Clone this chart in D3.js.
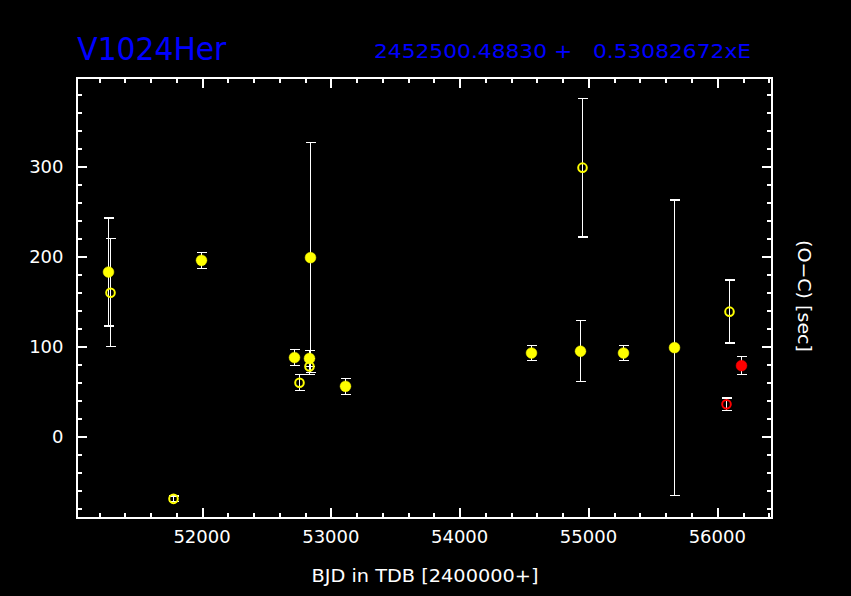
<!DOCTYPE html>
<html>
<head>
<meta charset="utf-8">
<script src="https://cdn.jsdelivr.net/npm/d3@7"></script>
<style>
  html, body { margin: 0; padding: 0; background: #000; }
  svg { display: block; }
  text { font-family: "DejaVu Sans", sans-serif; }
</style>
</head>
<body>
<svg id="chart" width="851" height="596"></svg>
<script>
// ---- data (BJD-2400000, O-C [sec], error [sec]) ----
const filledYellowJD  = [51273, 51990, 52712, 52836, 52831, 53109, 54552, 54932, 55267, 55666];
const filledYellowOC  = [183,   196,   88,    199,   87,    56,    93,    95,    93,    99];
const filledYellowErr = [60,    9,     9,     128,   9,     9,     8,     34,    8,     164];

const openYellowJD  = [51288, 51775, 52751, 52834, 54953, 56091];
const openYellowOC  = [160,   -69,   60,    78,    299,   139];
const openYellowErr = [60,    3,     9,     9,     77,    35];

const filledRedJD  = [56184];
const filledRedOC  = [79];
const filledRedErr = [10];

const openRedJD  = [56068];
const openRedOC  = [36];
const openRedErr = [7];

const xTickValues = [52000, 53000, 54000, 55000, 56000];
const yTickValues = [0, 100, 200, 300];

const titleText = "V1024Her";
const ephemText = "2452500.48830 +   0.53082672xE";
const xLabel = "BJD in TDB [2400000+]";
const yLabel = "(O\u2212C) [sec]";

(function () {
// ---- layout ----
const svg = d3.select("#chart");
const W = 851, H = 596;
const pL = 77, pR = 772, pT = 78, pB = 518;

svg.append("rect").attr("width", W).attr("height", H).attr("fill", "#000");

const x = d3.scaleLinear().domain([51029, 56425]).range([pL, pR]);
const y = d3.scaleLinear().domain([-90.3, 398.6]).range([pB, pT]);

const axisColor = "#fff";
const g = svg.append("g").attr("shape-rendering", "crispEdges");

// frame
g.append("rect")
  .attr("x", pL).attr("y", pT)
  .attr("width", pR - pL).attr("height", pB - pT)
  .attr("fill", "none").attr("stroke", axisColor).attr("stroke-width", 2);

function styleAxis(sel) {
  sel.select(".domain").remove();
  sel.selectAll("line").attr("stroke", axisColor).attr("stroke-width", 2);
  sel.selectAll("text").remove();
}
const xMinor = d3.range(51200, 56425, 200);
const yMinor = d3.range(-80, 398, 20);

// bottom
g.append("g").attr("transform", `translate(0,${pB})`)
  .call(d3.axisTop(x).tickValues(xMinor).tickSize(5)).call(styleAxis);
g.append("g").attr("transform", `translate(0,${pB})`)
  .call(d3.axisTop(x).tickValues(xTickValues).tickSize(10)).call(styleAxis);
// top
g.append("g").attr("transform", `translate(0,${pT})`)
  .call(d3.axisBottom(x).tickValues(xMinor).tickSize(5)).call(styleAxis);
g.append("g").attr("transform", `translate(0,${pT})`)
  .call(d3.axisBottom(x).tickValues(xTickValues).tickSize(10)).call(styleAxis);
// left
g.append("g").attr("transform", `translate(${pL},0)`)
  .call(d3.axisRight(y).tickValues(yMinor).tickSize(5)).call(styleAxis);
g.append("g").attr("transform", `translate(${pL},0)`)
  .call(d3.axisRight(y).tickValues(yTickValues).tickSize(10)).call(styleAxis);
// right
g.append("g").attr("transform", `translate(${pR},0)`)
  .call(d3.axisLeft(y).tickValues(yMinor).tickSize(5)).call(styleAxis);
g.append("g").attr("transform", `translate(${pR},0)`)
  .call(d3.axisLeft(y).tickValues(yTickValues).tickSize(10)).call(styleAxis);

// tick labels
svg.append("g").selectAll("text").data(xTickValues).join("text")
  .attr("x", d => x(d)).attr("y", 543)
  .attr("text-anchor", "middle").attr("fill", "#fff").attr("font-size", 18)
  .text(d => d);
svg.append("g").selectAll("text").data(yTickValues).join("text")
  .attr("x", 63.5).attr("y", d => y(d) + 6.6)
  .attr("text-anchor", "end").attr("fill", "#fff").attr("font-size", 18)
  .text(d => d);

// axis labels
svg.append("text")
  .attr("x", 425).attr("y", 581.7).attr("text-anchor", "middle")
  .attr("fill", "#fff").attr("font-size", 18)
  .attr("textLength", 227).attr("lengthAdjust", "spacingAndGlyphs")
  .text(xLabel);
svg.append("text")
  .attr("transform", "translate(798,296) rotate(90)")
  .attr("text-anchor", "middle").attr("fill", "#fff").attr("font-size", 18)
  .attr("textLength", 112).attr("lengthAdjust", "spacingAndGlyphs")
  .text(yLabel);

// title + ephemeris
svg.append("text")
  .attr("x", 77.3).attr("y", 60).attr("fill", "#0000ff").attr("font-size", 32)
  .attr("textLength", 149).attr("lengthAdjust", "spacingAndGlyphs")
  .text(titleText);
svg.append("text")
  .attr("x", 374).attr("y", 58.3).attr("fill", "#0000ff").attr("font-size", 20)
  .style("white-space", "pre")
  .attr("textLength", 377).attr("lengthAdjust", "spacingAndGlyphs")
  .text(ephemText);

// ---- data marks ----
function series(jd, oc, err) { return jd.map((d, i) => ({ jd: d, oc: oc[i], err: err[i] })); }
const sets = [
  { data: series(filledYellowJD, filledYellowOC, filledYellowErr), color: "#ffff00", filled: true },
  { data: series(openYellowJD, openYellowOC, openYellowErr), color: "#ffff00", filled: false },
  { data: series(filledRedJD, filledRedOC, filledRedErr), color: "#ff0000", filled: true },
  { data: series(openRedJD, openRedOC, openRedErr), color: "#ff0000", filled: false }
];
const all = sets.flatMap(s => s.data);

// error bars (under markers)
const eb = svg.append("g").attr("stroke", "#fff").attr("stroke-width", 1.3)
  .attr("shape-rendering", "crispEdges");
const cap = 5;
all.forEach(d => {
  const cx = Math.round(x(d.jd)) + 0.5, y1 = y(d.oc + d.err), y2 = y(d.oc - d.err);
  eb.append("line").attr("x1", cx).attr("x2", cx).attr("y1", y1).attr("y2", y2);
  eb.append("line").attr("x1", cx - cap).attr("x2", cx + cap).attr("y1", y1).attr("y2", y1);
  eb.append("line").attr("x1", cx - cap).attr("x2", cx + cap).attr("y1", y2).attr("y2", y2);
});

sets.forEach(s => {
  svg.append("g").selectAll("circle").data(s.data).join("circle")
    .attr("cx", d => Math.round(x(d.jd)) + 0.5).attr("cy", d => y(d.oc))
    .attr("r", s.filled ? 5.4 : 4.3)
    .attr("fill", s.filled ? s.color : "none")
    .attr("stroke", s.color)
    .attr("stroke-width", s.filled ? 0.5 : 2);
});
})();
</script>
</body>
</html>
